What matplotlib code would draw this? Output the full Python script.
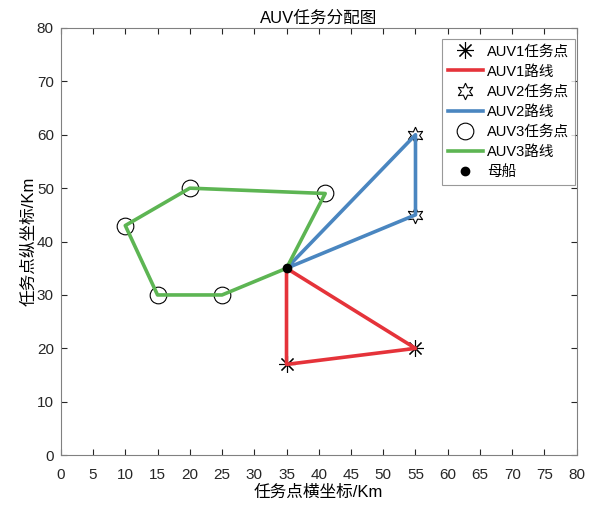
import numpy as np
import matplotlib
matplotlib.use("Agg")
import matplotlib.pyplot as plt

plt.rcParams['font.family'] = ['Liberation Sans', 'Noto Sans CJK SC']

# mother ship position
ship = (35, 35)

# task points of each AUV (in visiting order)
auv1_x = [35, 55]
auv1_y = [17, 20]
auv2_x = [55, 55]
auv2_y = [60, 45]
auv3_x = [41, 20, 10, 15, 25]
auv3_y = [49, 50, 43, 30, 30]

red = '#e5333a'
blue = '#4a86c0'
green = '#5db553'


# route = ship -> task points -> ship
def route(xs, ys):
    rx = [ship[0]] + list(xs) + [ship[0]]
    ry = [ship[1]] + list(ys) + [ship[1]]
    return rx, ry


fig = plt.figure(figsize=(6.02, 5.08), dpi=100)
ax = fig.add_axes([0.101, 0.104, 0.857, 0.841])

ax.plot(auv1_x, auv1_y, linestyle='none', marker=(8, 2, 0), ms=12, mec='black', mew=0.8, label='AUV1任务点')
rx, ry = route(auv1_x, auv1_y)
ax.plot(rx, ry, color=red, lw=2.6, label='AUV1路线')

ax.plot(auv2_x, auv2_y, linestyle='none', marker=(6, 1, 0), ms=12, mfc='white', mec='black', mew=0.8, label='AUV2任务点')
rx, ry = route(auv2_x, auv2_y)
ax.plot(rx, ry, color=blue, lw=2.6, label='AUV2路线')

ax.plot(auv3_x, auv3_y, linestyle='none', marker='o', ms=12, mfc='none', mec='black', mew=0.8, label='AUV3任务点')
rx, ry = route(auv3_x, auv3_y)
ax.plot(rx, ry, color=green, lw=2.6, label='AUV3路线')

ax.plot([ship[0]], [ship[1]], linestyle='none', marker='o', ms=6, color='black', label='母船')

ax.set_xlim(0, 80)
ax.set_ylim(0, 80)
ax.set_xticks(np.arange(0, 81, 5))
ax.set_yticks(np.arange(0, 81, 10))
ax.tick_params(direction='in', top=True, right=True, labelsize=11, colors='#262626', length=4)
ax.tick_params(axis='x', pad=9)
ax.tick_params(axis='y', pad=5)
for s in ax.spines.values():
    s.set_color('#808080')

ax.set_title('AUV任务分配图', fontsize=12, pad=4)
ax.set_xlabel('任务点横坐标/Km', fontsize=12, labelpad=2)
ax.set_ylabel('任务点纵坐标/Km', fontsize=12, labelpad=0)

leg = ax.legend(loc='upper right', bbox_to_anchor=(0.997, 0.975), borderaxespad=0,
                fontsize=10.5, fancybox=False, edgecolor='#808080',
                handlelength=2.4, labelspacing=0.42, borderpad=0.4, handletextpad=0.3)
leg.get_frame().set_linewidth(0.8)

fig.savefig('out.png', dpi=100)
